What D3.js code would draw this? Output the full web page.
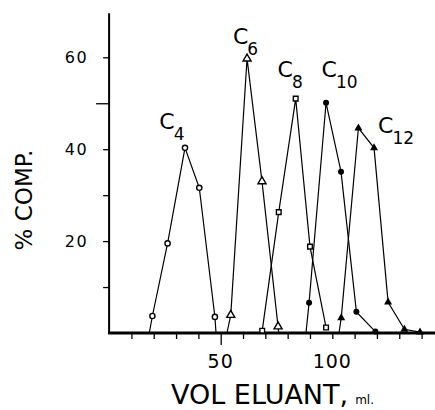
<!DOCTYPE html>
<html><head><meta charset="utf-8">
<script src="https://cdn.jsdelivr.net/npm/d3@7"></script>
<style>body{margin:0;background:#fff}svg{display:block}text{font-family:"DejaVu Sans",sans-serif;fill:#000}</style>
</head><body>
<svg id="c" width="435" height="410"></svg>
<script>
// Data (VOL ELUANT ml, % COMP.)
const c4X  = [18.0, 19.4, 26.2, 34.0, 40.4, 47.4, 47.9];
const c4Y  = [0,    3.7, 19.5, 40.3, 31.6,  3.5,  0];
const c6X  = [52.8, 54.5, 61.8, 68.5, 75.7, 76.0];
const c6Y  = [0,    3.9, 59.7, 33.0,  1.4,  0];
const c8X  = [68.6, 76.0, 83.6, 90.0, 97.2];
const c8Y  = [0.5, 26.3, 51.0, 18.8,  1.2];
const c10X = [88.2, 89.6, 97.2, 103.9, 110.8, 119.3];
const c10Y = [0,    6.6, 50.1, 35.1,  4.6,  0.3];
const c12X = [103.0, 104.0, 111.7, 118.7, 125.0, 132.3, 139.3];
const c12Y = [0,     3.3, 44.6, 40.3,  6.7,  0.8,  0.2];
// which points carry a marker (first/last baseline points are line ends)
const c4M  = [0,1,1,1,1,1,0];
const c6M  = [0,1,1,1,1,0];
const c8M  = [1,1,1,1,1];
const c10M = [0,1,1,1,1,1];
const c12M = [0,1,1,1,1,1,1];
const seriesNames = ["C4","C6","C8","C10","C12"];
const labelBase = ["C","C","C","C","C"];
const labelSub  = ["4","6","8","10","12"];
const labelAtX = [22.5, 55.5, 75.5, 95.2, 120.5];
const labelAtY = [44.5, 63.0, 55.8, 55.8, 43.5];
const xTicks = [10,20,30,40,50,60,70,80,90,100,110,120,130,140];
const xTickLabels = [50,100];
const yTicks = [10,20,30,40,50,60];
const yTickLabels = [20,40,60];

const svg = d3.select("#c");
const x = d3.scaleLinear().domain([0,50]).range([109.1,220.7]);
const y = d3.scaleLinear().domain([0,60]).range([333,57.3]);

// axes
svg.append("line").attr("x1",x(0)).attr("x2",x(0)).attr("y1",y(0)+1).attr("y2",y(69.6))
  .attr("stroke","#000").attr("stroke-width",2);
svg.append("line").attr("x1",x(0)-1).attr("x2",435).attr("y1",y(0)).attr("y2",y(0))
  .attr("stroke","#000").attr("stroke-width",3);

const xa = svg.append("g").attr("transform",`translate(0,${y(0)})`)
  .call(d3.axisBottom(x).tickValues(xTicks).tickSize(6).tickFormat(""));
xa.select(".domain").remove();
xa.selectAll(".tick line").attr("stroke","#000").attr("stroke-width",1.3)
  .attr("y2", d => d===50 ? 12 : 6);
svg.selectAll(".xl").data(xTickLabels).join("text").attr("class","xl")
  .attr("x",d=>x(d)).attr("y",y(0)+35).attr("text-anchor","middle")
  .attr("font-size",19).attr("letter-spacing",1).text(d=>d);

const ya = svg.append("g").attr("transform",`translate(${x(0)},0)`)
  .call(d3.axisLeft(y).tickValues(yTicks).tickSize(6).tickFormat(""));
ya.select(".domain").remove();
ya.selectAll(".tick line").attr("stroke","#000").attr("stroke-width",1.3)
  .attr("x2", d => d===50 ? -13 : -6);
svg.selectAll(".yl").data(yTickLabels).join("text").attr("class","yl")
  .attr("x",x(0)-21).attr("y",d=>y(d)+6).attr("text-anchor","end")
  .attr("font-size",16).attr("letter-spacing",1.5).text(d=>d);

// axis titles
svg.append("text").attr("transform",`translate(32,200) rotate(-90)`)
  .attr("text-anchor","middle").attr("font-size",23).text("% COMP.");
const xt = svg.append("text").attr("x",171).attr("y",404).attr("font-size",27);
xt.append("tspan").text("VOL ELUANT,");
xt.append("tspan").attr("font-size",12).attr("dx",7).text("ml.");

// series
const sx = [c4X,c6X,c8X,c10X,c12X], sy=[c4Y,c6Y,c8Y,c10Y,c12Y], sm=[c4M,c6M,c8M,c10M,c12M];
const line = d3.line().x(d=>x(d[0])).y(d=>y(d[1]));
const tri = d3.symbol().type(d3.symbolTriangle).size(28);
const sq = d3.symbol().type(d3.symbolSquare).size(22);
sx.forEach((xs,i)=>{
  const pts = xs.map((v,j)=>[v, sy[i][j], sm[i][j]]);
  svg.append("path").datum(pts).attr("d",line).attr("fill","none")
    .attr("stroke","#000").attr("stroke-width",1.2);
  const mk = pts.filter(p=>p[2]);
  const g = svg.append("g");
  if(i===0){
    g.selectAll("circle").data(mk).join("circle").attr("cx",p=>x(p[0])).attr("cy",p=>y(p[1]))
      .attr("r",2.6).attr("fill","#fff").attr("stroke","#000").attr("stroke-width",1.4);
  } else if(i===1){
    g.selectAll("path").data(mk).join("path").attr("d",tri)
      .attr("transform",p=>`translate(${x(p[0])},${y(p[1])})`)
      .attr("fill","#fff").attr("stroke","#000").attr("stroke-width",1.4);
  } else if(i===2){
    g.selectAll("path").data(mk).join("path").attr("d",sq)
      .attr("transform",p=>`translate(${x(p[0])},${y(p[1])})`)
      .attr("fill","#fff").attr("stroke","#000").attr("stroke-width",1.4);
  } else if(i===3){
    g.selectAll("circle").data(mk).join("circle").attr("cx",p=>x(p[0])).attr("cy",p=>y(p[1]))
      .attr("r",3).attr("fill","#000");
  } else {
    g.selectAll("path").data(mk).join("path").attr("d",tri)
      .attr("transform",p=>`translate(${x(p[0])},${y(p[1])})`).attr("fill","#000");
  }
  // label
  const t = svg.append("text").attr("x",x(labelAtX[i])).attr("y",y(labelAtY[i]))
    .attr("font-size",22).attr("fill","#000")
    .attr("font-family","'DejaVu Sans Condensed','DejaVu Sans',sans-serif");
  t.append("tspan").attr("fill","#000").text(labelBase[i]);
  t.append("tspan").attr("dy",11).attr("dx",-1).attr("font-size",17).attr("fill","#000").text(labelSub[i]);
});
</script>
</body></html>
